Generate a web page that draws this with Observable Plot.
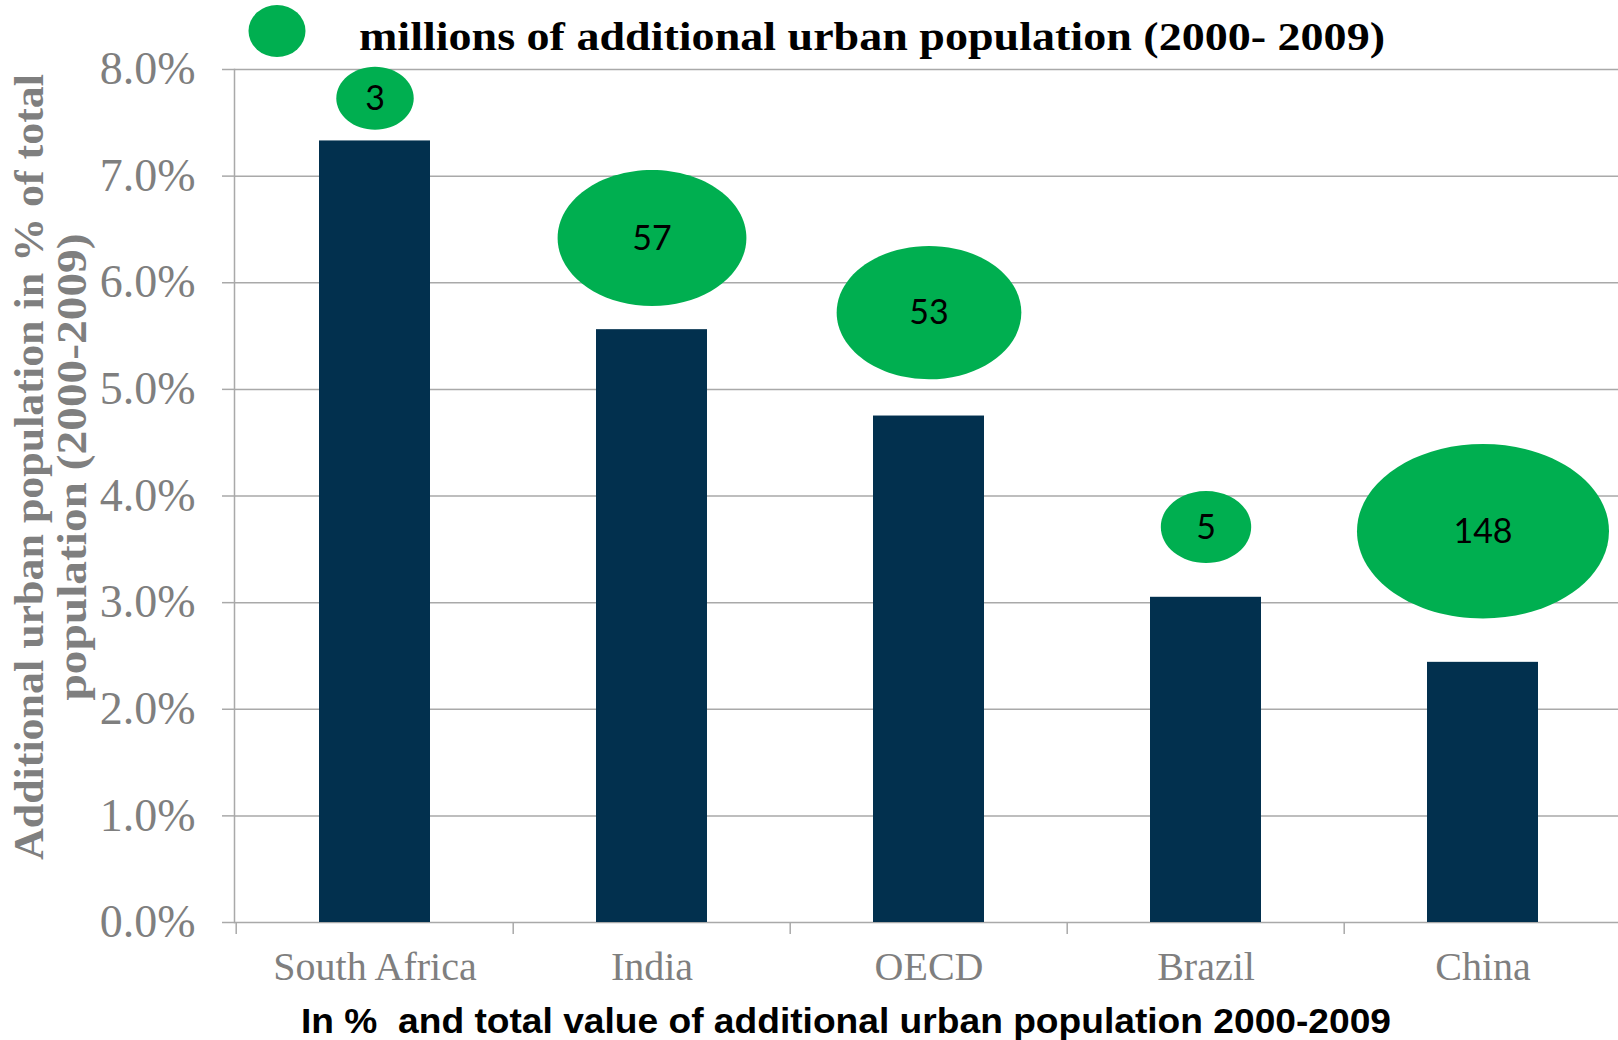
<!DOCTYPE html>
<html>
<head>
<meta charset="utf-8">
<script src="https://cdn.jsdelivr.net/npm/d3@7"></script>
<script src="https://cdn.jsdelivr.net/npm/@observablehq/plot@0.6"></script>
<style>
  html, body { margin: 0; padding: 0; background: #fff; overflow: hidden; }
  #wrap { position: relative; width: 1618px; height: 1040px; }
  #wrap svg { display: block; }
  #legend { position: absolute; left: 0; top: 0; pointer-events: none; }
  g[aria-label="x-axis tick label"] text { font-family: "Liberation Serif", serif; }
  g[aria-label="y-axis tick label"] text { font-family: "Liberation Serif", serif; }
</style>
</head>
<body>
<div id="wrap"></div>
<script>
// ---- data ----
const categories = ["South Africa", "India", "OECD", "Brazil", "China"];
const sharePct = [7.33, 5.56, 4.75, 3.05, 2.44];          // bar: additional urban pop, % of total
const addedMillions = [3, 57, 53, 5, 148];                // bubble: millions of additional urban population
const bubbleLevel = [7.73, 6.42, 5.72, 3.71, 3.67];       // bubble series y value (%)
const yTicks = [0, 1, 2, 3, 4, 5, 6, 7, 8];
const legendText = "millions of additional urban population (2000- 2009)";
const yTitle = ["Additional urban population in % of total", "population (2000-2009)"];
const caption = "In %  and total value of additional urban population 2000-2009";

const rows = categories.map((c, i) => ({category: c, share: sharePct[i], added: addedMillions[i], level: bubbleLevel[i]}));

// ---- styles ----
const W = 1618, H = 995;
const mL = 234, mR = -4, mT = 69, mB = 73;
const navy = "#02304e", green = "#00af50", grid = "#a9a9a9", tickText = "#7f7f7f";
const step = (W - mL - mR) / categories.length;

// ellipse-shaped bubble symbol (Excel bubbles in the original are stretched)
const ellipse = {
  draw(ctx, size) {
    const rx = Math.sqrt(size / Math.PI);
    const ry = 1.343 * Math.pow(rx, 0.863);
    const k = 0.5523;
    ctx.moveTo(rx, 0);
    ctx.bezierCurveTo(rx, ry * k, rx * k, ry, 0, ry);
    ctx.bezierCurveTo(-rx * k, ry, -rx, ry * k, -rx, 0);
    ctx.bezierCurveTo(-rx, -ry * k, -rx * k, -ry, 0, -ry);
    ctx.bezierCurveTo(rx * k, -ry, rx, -ry * k, rx, 0);
    ctx.closePath();
  }
};

const chart = Plot.plot({
  width: W, height: H,
  marginLeft: mL, marginRight: mR, marginTop: mT, marginBottom: mB,
  x: {domain: categories, paddingInner: 0.6, paddingOuter: 0.3, align: 0.5, label: null},
  y: {domain: [0, 8], label: null},
  r: {type: "pow", exponent: 0.3027, domain: [0, 148], range: [0, 126]},
  marks: [
    Plot.gridY(yTicks, {stroke: grid, strokeOpacity: 1, strokeWidth: 1.5}),
    Plot.frame({anchor: "left", stroke: grid, strokeWidth: 1.5}),
    Plot.axisY(yTicks, {tickSize: 12, tickPadding: 27, stroke: grid, strokeWidth: 1.5, fill: tickText,
      fontSize: 46, fontFamily: "Liberation Serif", tickFormat: d => d.toFixed(1) + "%", label: null}),
    Plot.axisX({tickSize: 12, dx: -step / 2, stroke: grid, strokeWidth: 1.5, tickFormat: () => "", label: null}),
    Plot.axisX({tickSize: 0, tickPadding: 29, fill: tickText, fontSize: 40, fontFamily: "Liberation Serif", label: null}),
    Plot.barY(rows, {x: "category", y: "share", fill: navy}),
    Plot.dot(rows, {x: "category", y: "level", r: "added", symbol: ellipse, fill: green, stroke: "none"}),
    Plot.text(rows, {x: "category", y: "level", text: d => String(d.added), fill: "#000",
      fontSize: 34, fontFamily: "Lato", dy: 1})
  ]
});

const wrap = document.getElementById("wrap");
wrap.appendChild(chart);

// y-axis title (two lines, rotated)
const svg = d3.select(chart);
const ty = 467;
[[42.7, yTitle[0], 786], [85.5, yTitle[1], 467]].forEach(([x, t, len]) => {
  svg.append("text")
    .attr("transform", `translate(${x},${ty}) rotate(-90)`)
    .attr("text-anchor", "middle")
    .attr("font-family", "Liberation Serif")
    .attr("font-weight", "bold")
    .attr("font-size", 42)
    .attr("fill", tickText)
    .attr("textLength", len)
    .attr("lengthAdjust", "spacingAndGlyphs")
    .text(t);
});

// legend overlay (top)
const legend = d3.select(wrap).append("svg")
  .attr("id", "legend").attr("width", W).attr("height", 62);
legend.append("ellipse").attr("cx", 277).attr("cy", 31).attr("rx", 28.5).attr("ry", 26).attr("fill", green);
legend.append("text")
  .attr("x", 359).attr("y", 50)
  .attr("font-family", "Liberation Serif").attr("font-weight", "bold").attr("font-size", 41)
  .attr("fill", "#000")
  .attr("textLength", 1026).attr("lengthAdjust", "spacingAndGlyphs")
  .style("white-space", "pre")
  .text(legendText);

// caption below
const cap = d3.select(wrap).append("svg").attr("width", W).attr("height", 1040 - H);
cap.append("text")
  .attr("x", 846).attr("y", 38)
  .attr("text-anchor", "middle")
  .attr("font-family", "Liberation Sans").attr("font-weight", "bold").attr("font-size", 35)
  .attr("fill", "#000")
  .attr("textLength", 1090).attr("lengthAdjust", "spacingAndGlyphs")
  .style("white-space", "pre")
  .text(caption);
</script>
</body>
</html>
